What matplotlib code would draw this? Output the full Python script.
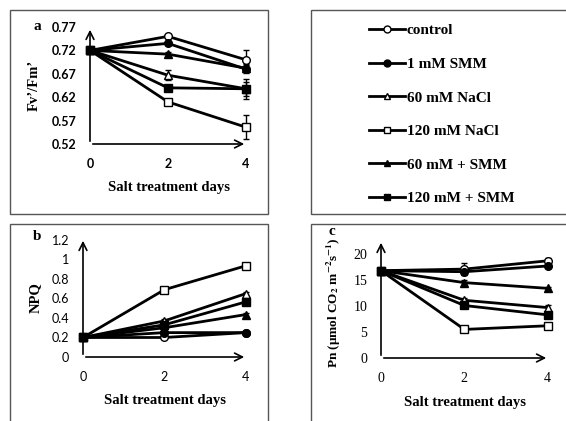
import matplotlib.pyplot as plt
from matplotlib.patches import Rectangle
from matplotlib.lines import Line2D

plt.rcParams['mathtext.fontset'] = 'stix'

days = [0, 2, 4]
groups = ["control", "1 mM SMM", "60 mM NaCl", "120 mM NaCl", "60 mM + SMM", "120 mM + SMM"]
markers = ["o", "o", "^", "s", "^", "s"]
filled = [False, True, False, False, True, True]

# Fv'/Fm'
fvfm = [[0.72, 0.750, 0.700],
        [0.72, 0.735, 0.680],
        [0.72, 0.667, 0.638],
        [0.72, 0.610, 0.556],
        [0.72, 0.712, 0.682],
        [0.72, 0.640, 0.638]]
fvfm_err = [[0, 0.004, 0.021],
            [0, 0.004, 0.008],
            [0, 0.011, 0.015],
            [0, 0.006, 0.025],
            [0, 0.004, 0.008],
            [0, 0.006, 0.021]]

# NPQ
npq = [[0.2, 0.20, 0.25],
       [0.2, 0.25, 0.25],
       [0.2, 0.37, 0.65],
       [0.2, 0.69, 0.935],
       [0.2, 0.30, 0.435],
       [0.2, 0.33, 0.565]]
npq_err = [[0, 0.01, 0.01],
           [0, 0.01, 0.01],
           [0, 0.02, 0.02],
           [0, 0.02, 0.02],
           [0, 0.02, 0.02],
           [0, 0.02, 0.02]]

# Pn
pn = [[16.8, 17.1, 18.7],
      [16.8, 16.6, 17.7],
      [16.8, 11.1, 9.7],
      [16.8, 5.5, 6.2],
      [16.8, 14.5, 13.4],
      [16.8, 10.1, 8.3]]
pn_err = [[0, 1.1, 0.6],
          [0, 0.5, 0.4],
          [0, 0.5, 0.5],
          [0, 0.3, 0.5],
          [0, 0.5, 0.3],
          [0, 0.5, 0.7]]

serif = "Liberation Serif"

fig = plt.figure(figsize=(5.66, 4.21), dpi=100)
W, H = 566.0, 421.0


def fig_box(x0, y0, x1, y1):
    fig.patches.append(Rectangle((x0 / W, 1 - y1 / H), (x1 - x0) / W, (y1 - y0) / H,
                                 transform=fig.transFigure, fill=False,
                                 edgecolor="#555555", linewidth=1.0))


def axes_px(left, right, top, bottom):
    return fig.add_axes([left / W, 1 - bottom / H, (right - left) / W, (bottom - top) / H])


def draw_panel(ax, data, err, ylim, yticks, ytick_labels, tick_font, tick_weight, tick_size):
    for i in range(len(groups)):
        face = "black" if filled[i] else "white"
        ax.errorbar(days, data[i], yerr=err[i], color="black", linewidth=2,
                    marker=markers[i], markersize=5.5, markerfacecolor=face,
                    markeredgecolor="black", markeredgewidth=1, capsize=2.5,
                    elinewidth=1, clip_on=False, zorder=3)
    ax.set_xlim(0, 4.03)
    ax.set_ylim(*ylim)
    for s in ax.spines.values():
        s.set_visible(False)
    ax.set_facecolor("none")
    ax.annotate("", xy=(1.0, 0), xytext=(0, 0), xycoords="axes fraction",
                arrowprops=dict(arrowstyle="->", color="black", lw=1.2, mutation_scale=14))
    ax.annotate("", xy=(0, 1.0), xytext=(0, 0), xycoords="axes fraction",
                arrowprops=dict(arrowstyle="->", color="black", lw=1.2, mutation_scale=14))
    ax.set_xticks(days)
    ax.set_xticklabels([str(d) for d in days], fontfamily=tick_font,
                       fontweight=tick_weight, fontsize=tick_size)
    ax.set_yticks(yticks)
    ax.set_yticklabels(ytick_labels, fontfamily=tick_font,
                       fontweight=tick_weight, fontsize=tick_size)
    ax.tick_params(length=0, pad=10)
    ax.set_xlabel("Salt treatment days", fontfamily=serif, fontweight="bold",
                  fontsize=10.5, labelpad=8)


# frames
fig_box(10, 10, 268, 214)
fig_box(311, 10, 575, 214)
fig_box(10, 224, 268, 430)
fig_box(311, 224, 575, 430)

# panel a
ax_a = axes_px(90, 247, 27, 144)
a_ticks = [0.52, 0.57, 0.62, 0.67, 0.72, 0.77]
draw_panel(ax_a, fvfm, fvfm_err, (0.52, 0.77), a_ticks,
           ["%.2f" % t for t in a_ticks], "Lato", "bold", 9)
ax_a.set_ylabel("Fv’/Fm’", fontfamily=serif, fontweight="bold", fontsize=10.5, labelpad=8)
fig.text(37 / W, 1 - 26 / H, "a", fontfamily=serif, fontweight="bold", fontsize=11,
         ha="center", va="center")

# panel b
ax_b = axes_px(83, 247, 238, 357)
b_ticks = [0, 0.2, 0.4, 0.6, 0.8, 1.0, 1.2]
draw_panel(ax_b, npq, npq_err, (0, 1.22), b_ticks,
           ["0", "0.2", "0.4", "0.6", "0.8", "1", "1.2"], "Lato", "normal", 9)
ax_b.set_ylabel("NPQ", fontfamily=serif, fontweight="bold", fontsize=10.5, labelpad=7)
fig.text(37 / W, 1 - 236 / H, "b", fontfamily=serif, fontweight="bold", fontsize=11,
         ha="center", va="center")

# panel c
ax_c = axes_px(381, 549, 240, 358)
c_ticks = [0, 5, 10, 15, 20]
draw_panel(ax_c, pn, pn_err, (0, 22.7), c_ticks,
           [str(t) for t in c_ticks], serif, "normal", 10)
ax_c.set_ylabel(r"Pn (μmol CO$_\mathbf{2}$ m$^{\mathbf{-2}}$s$^{\mathbf{-1}}$)",
                fontfamily=serif, fontweight="bold", fontsize=9.5, labelpad=5)
ax_c.yaxis.set_label_coords(-0.225, 0.47)
fig.text(332 / W, 1 - 232 / H, "c", fontfamily=serif, fontweight="bold", fontsize=11,
         ha="center", va="center")

# legend
handles = []
for i in range(len(groups)):
    face = "black" if filled[i] else "white"
    handles.append(Line2D([], [], color="black", linewidth=2, marker=markers[i],
                          markersize=5, markerfacecolor=face, markeredgecolor="black",
                          markeredgewidth=1))
fig.legend(handles, groups, loc="upper left", bbox_to_anchor=(355 / W, 1 - 10 / H),
           frameon=False, handlelength=2.4, handletextpad=0.1, labelspacing=1.3,
           prop={"family": serif, "weight": "bold", "size": 11})

fig.savefig("out.png", dpi=100)
